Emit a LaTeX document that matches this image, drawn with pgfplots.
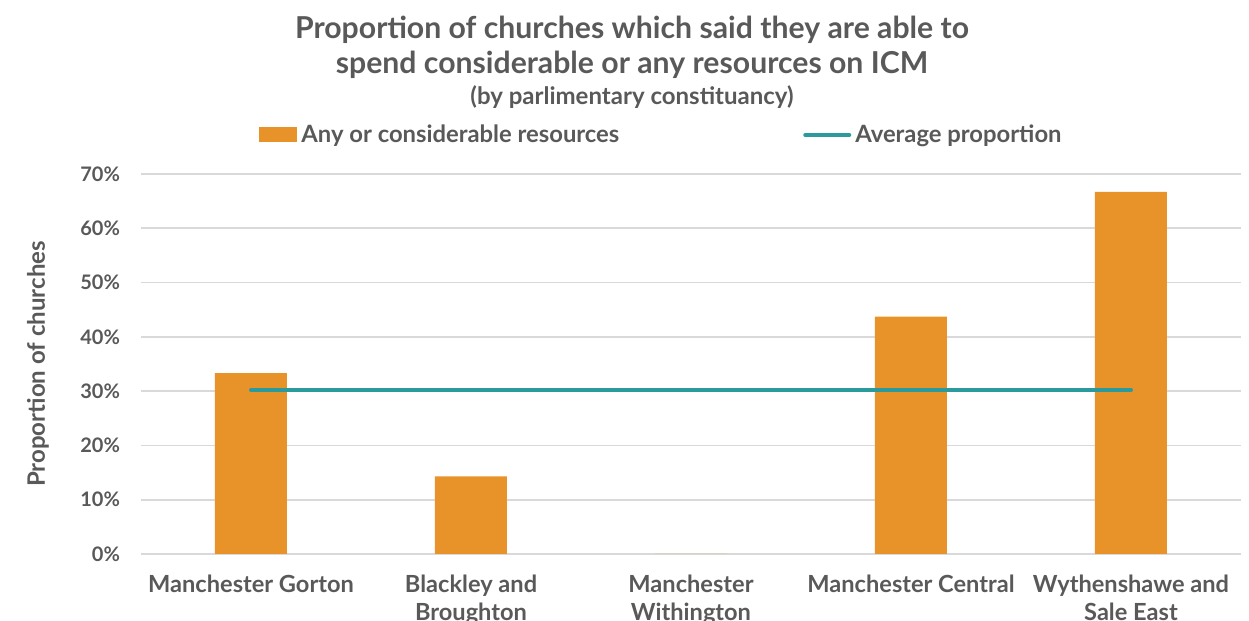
\documentclass[border=0pt]{standalone}
\usepackage{fontspec}
\setmainfont{Lato}
\usepackage{pgfplots}
\pgfplotsset{compat=1.18}
\definecolor{txtgray}{HTML}{595959}
\definecolor{barorange}{HTML}{E8932A}
\definecolor{lineteal}{HTML}{2A9A9C}
\definecolor{gridgray}{HTML}{D9D9D9}
\begin{document}
\begin{tikzpicture}
\path[use as bounding box] (-70.5pt,-33.5pt) rectangle (554pt,277pt);
\begin{axis}[
  at={(0pt,0pt)}, anchor=south west,
  scale only axis, width=550pt, height=190pt,
  xmin=-0.5, xmax=4.5, ymin=0, ymax=70,
  axis line style={draw=none},
  ymajorgrids, grid style={gridgray, line width=0.8pt},
  major tick length=0pt,
  ytick={0,10,20,30,40,50,60,70},
  yticklabels={0\%,10\%,20\%,30\%,40\%,50\%,60\%,70\%},
  yticklabel style={font=\bfseries\fontsize{10}{11}\selectfont, text=txtgray, xshift=-7pt},
  xtick={0,1,2,3,4},
  xticklabels={Manchester Gorton, Blackley and\\Broughton, Manchester\\Withington, Manchester Central, Wythenshawe and\\Sale East},
  xticklabel style={font=\bfseries\fontsize{11.8}{14}\selectfont, text=txtgray, align=center, anchor=north, yshift=-7pt},
  ylabel={Proportion of churches},
  ylabel style={font=\bfseries\fontsize{12}{13}\selectfont, text=txtgray, anchor=center},
  every axis y label/.append style={at={(-51.5pt,95pt)}},
  legend columns=2,
  legend style={at={(260.75pt,209.5pt)}, anchor=center, draw=none, font=\bfseries\fontsize{11.9}{13}\selectfont, text=txtgray, /tikz/every even column/.append style={column sep=90pt}, inner sep=0pt},
  legend cell align=left,
  clip=false,
]
\addplot[ybar, bar width=36pt, fill=barorange, draw=none,
  legend image code/.code={\fill[barorange] (0pt,-3.75pt) rectangle (19pt,3.75pt);}]
  coordinates {(0,33.3) (1,14.3) (2,0) (3,43.75) (4,66.7)};
\addlegendentry{Any or considerable resources}
\addplot[lineteal, line width=2pt, line cap=round,
  legend image code/.code={\draw[lineteal, line width=2pt, line cap=round] (0pt,0pt) -- (22pt,0pt);}]
  coordinates {(0,30.2) (1,30.2) (2,30.2) (3,30.2) (4,30.2)};
\addlegendentry{Average proportion}
\end{axis}
\node[font=\bfseries\fontsize{15.1}{17.5}\selectfont, text=txtgray, align=center] at (245.5pt,253.5pt) {Proportion of churches which said they are able to\\spend considerable or any resources on ICM};
\node[font=\bfseries\fontsize{12}{13}\selectfont, text=txtgray] at (245.5pt,228.5pt) {(by parlimentary constituancy)};
\end{tikzpicture}
\end{document}
